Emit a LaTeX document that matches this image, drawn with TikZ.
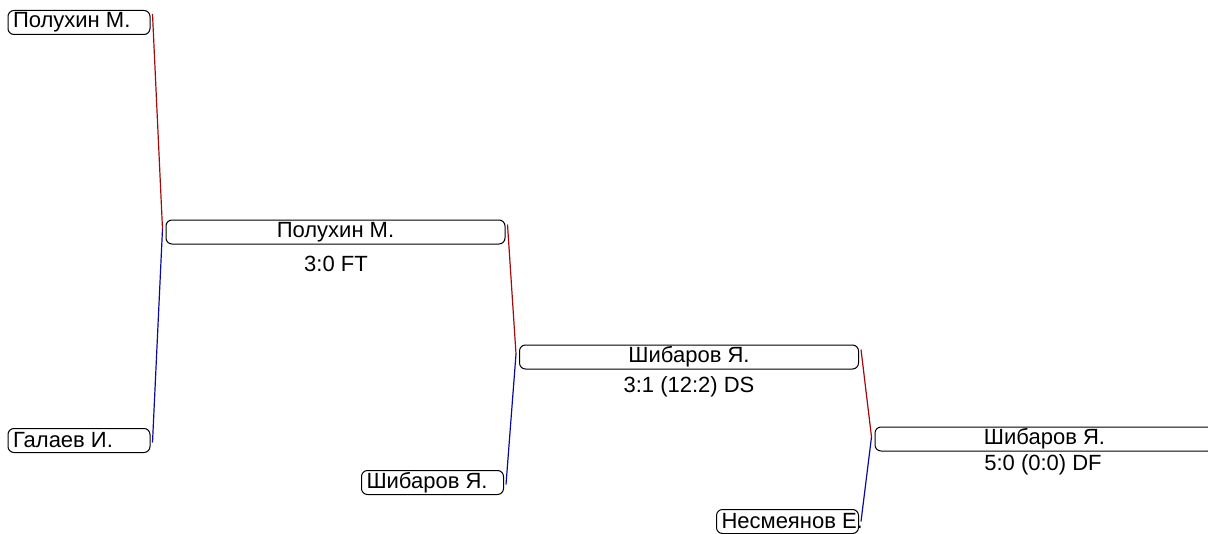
\documentclass[tikz,border=0pt]{standalone}
\usepackage{fontspec}
\setmainfont{Liberation Sans}
\definecolor{winline}{RGB}{160,10,10}
\definecolor{loseline}{RGB}{10,10,160}
\newcommand{\lname}[1]{\makebox[66pt][l]{#1}}
\begin{document}
\begin{tikzpicture}[x=0.5pt,y=-0.5pt,
  player/.style={draw, rounded corners=3pt, inner ysep=0pt, inner xsep=2.5pt, line width=0.5pt, font=\fontsize{11}{12}\selectfont, minimum width=71pt, minimum height=12pt},
  winner/.style={player, minimum width=169.5pt},
  score/.style={font=\fontsize{11}{12}\selectfont, inner sep=0pt},
  up/.style={draw=winline, line width=0.6pt},
  down/.style={draw=loseline, line width=0.6pt}]
\useasboundingbox (0,0) rectangle (1208,534);
\node[player] (p1) at (79,22.5) {\lname{Полухин М.}};
\node[player] (g1) at (79,440.5) {\lname{Галаев И.}};
\node[winner] (w1) at (335.5,232) {Полухин М.};
\node[score] (s1) at (336,264) {3:0 FT};
\node[player] (sh) at (432.5,482.5) {\lname{Шибаров Я.}};
\node[winner] (w2) at (689,357) {Шибаров Я.};
\node[score] (s2) at (689,387) {3:1 (12:2) DS};
\node[player] (ne) at (787.5,521.5) {\lname{Несмеянов Е.}};
\node[winner] (w3) at (1044.5,439) {Шибаров Я.};
\node[score] (s3) at (1043,465) {5:0 (0:0) DF};
\coordinate (j1) at ([xshift=-1.5pt,yshift=1.5pt]w1.west);
\coordinate (j2) at ([xshift=-1.5pt,yshift=1.5pt]w2.west);
\coordinate (j3) at ([xshift=-1.5pt,yshift=1pt]w3.west);
\draw[up] ([xshift=1pt,yshift=-2pt]p1.north east) -- (j1);
\draw[down] (j1) -- ([xshift=1pt,yshift=-1pt]g1.east);
\draw[up] ([xshift=1pt,yshift=-2.5pt]w1.north east) -- (j2);
\draw[down] (j2) -- ([xshift=1pt,yshift=-1pt]sh.east);
\draw[up] ([xshift=1pt,yshift=-2.5pt]w2.north east) -- (j3);
\draw[down] (j3) -- ([xshift=1pt]ne.east);
\end{tikzpicture}
\end{document}
